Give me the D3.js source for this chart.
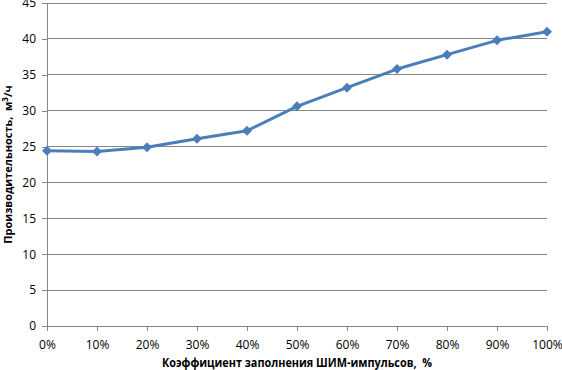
<!DOCTYPE html>
<html lang="ru">
<head>
<meta charset="UTF-8">
<title>Производительность</title>
<script src="https://d3js.org/d3.v7.min.js"></script>
<style>
  body { margin: 0; background: #fff; }
  text { font-family: "Open Sans", "DejaVu Sans", sans-serif; fill: #000; }
  .title { white-space: pre; }
</style>
</head>
<body>
<svg id="chart"></svg>
<script>
const duty = [0, 10, 20, 30, 40, 50, 60, 70, 80, 90, 100];
const flow = [24.4, 24.3, 24.9, 26.1, 27.2, 30.6, 33.2, 35.8, 37.8, 39.8, 41.0];
const yTicks = [0, 5, 10, 15, 20, 25, 30, 35, 40, 45];

const width = 562, height = 370;
const margin = {top: 3, right: 15, bottom: 44, left: 47};
const lineColor = "#4a7ebb";
const axisColor = "#868686";

const svg = d3.select("#chart").attr("width", width).attr("height", height);

const x = d3.scaleLinear().domain([0, 100]).range([margin.left, width - margin.right]);
const y = d3.scaleLinear().domain([0, 45]).range([height - margin.bottom, margin.top]);

// gridlines
svg.append("g")
  .selectAll("line")
  .data(yTicks.filter(d => d > 0))
  .join("line")
  .attr("x1", x(0)).attr("x2", x(100))
  .attr("y1", d => y(d)).attr("y2", d => y(d))
  .attr("stroke", axisColor).attr("stroke-width", 1)
  .attr("shape-rendering", "crispEdges");

// y axis
const yAxis = svg.append("g")
  .attr("transform", `translate(${x(0)},0)`)
  .call(d3.axisLeft(y).tickValues(yTicks).tickSize(5).tickPadding(6));
yAxis.select(".domain").attr("stroke", axisColor).attr("shape-rendering", "crispEdges");
yAxis.selectAll(".tick line").attr("stroke", axisColor).attr("shape-rendering", "crispEdges");
yAxis.selectAll("text").style("font-size", "12px").attr("fill", "#000");

// x axis
const xAxis = svg.append("g")
  .attr("transform", `translate(0,${y(0)})`)
  .call(d3.axisBottom(x).tickValues(duty).tickSize(5).tickPadding(9).tickFormat(d => d + "%"));
xAxis.select(".domain").attr("stroke", axisColor).attr("shape-rendering", "crispEdges");
xAxis.selectAll(".tick line").attr("stroke", axisColor).attr("shape-rendering", "crispEdges");
xAxis.selectAll("text").style("font-size", "12px").attr("fill", "#000");

// line
const pts = duty.map((d, i) => [d, flow[i]]);
svg.append("path")
  .datum(pts)
  .attr("fill", "none")
  .attr("stroke", lineColor)
  .attr("stroke-width", 3)
  .attr("stroke-linejoin", "round")
  .attr("d", d3.line().x(d => x(d[0])).y(d => y(d[1])));

// diamond markers
svg.append("g")
  .selectAll("path")
  .data(pts)
  .join("path")
  .attr("transform", d => `translate(${x(d[0])},${y(d[1])})`)
  .attr("d", "M0,-5L5,0L0,5L-5,0Z")
  .attr("fill", lineColor);

// axis titles
svg.append("text")
  .attr("class", "title")
  .attr("x", 297)
  .attr("y", 367)
  .attr("text-anchor", "middle")
  .attr("textLength", 270)
  .attr("lengthAdjust", "spacingAndGlyphs")
  .style("font-size", "11.5px")
  .style("font-weight", "bold")
  .text("Коэффициент заполнения ШИМ-импульсов,  %");

const yt = svg.append("text")
  .attr("class", "title")
  .attr("transform", `translate(12,${(y(0) + y(45)) / 2}) rotate(-90)`)
  .attr("text-anchor", "middle")
  .style("font-size", "11px")
  .style("font-weight", "bold");
yt.append("tspan").text("Производительность,  м");
yt.append("tspan").attr("dy", -4).style("font-size", "8px").text("3");
yt.append("tspan").attr("dy", 4).text("/ч");
</script>
</body>
</html>
